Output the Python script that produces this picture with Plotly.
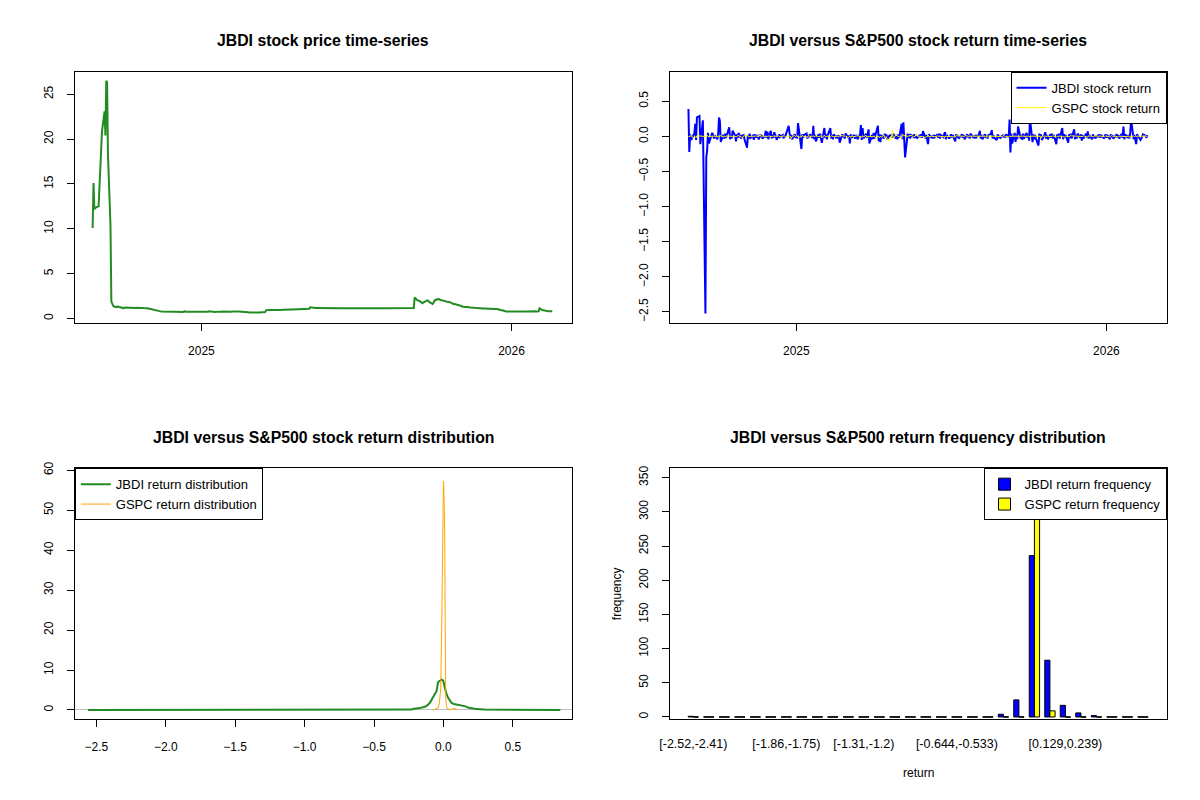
import pandas as pd
import plotly.graph_objects as go

# ---------------- data ----------------
START_DATE = "2024-08-26"

JBDI_PRICE = [
    10.1, 15.1, 12.2, 12.3, 12.4, 12.5, 14.7, 17.4, 19.3, 20.9,
    23.1, 20.4, 26.5, 26.3, 18.4, 10.3, 1.9, 1.6, 1.45, 1.35,
    1.3, 1.28, 1.35, 1.3, 1.25, 1.2, 1.15, 1.2, 1.25, 1.22,
    1.2, 1.18, 1.2, 1.22, 1.2, 1.18, 1.2, 1.19, 1.21, 1.2,
    1.18, 1.2, 1.22, 1.19, 1.17, 1.18, 1.16, 1.15, 1.12, 1.1,
    1.05, 1.0, 0.95, 0.92, 0.9, 0.88, 0.85, 0.82, 0.8, 0.78,
    0.76, 0.75, 0.76, 0.75, 0.74, 0.75, 0.76, 0.75, 0.75, 0.76,
    0.75, 0.74, 0.75, 0.76, 0.75, 0.75, 0.74, 0.75, 0.82, 0.76,
    0.75, 0.75, 0.76, 0.75, 0.74, 0.75, 0.76, 0.75, 0.75, 0.74,
    0.75, 0.76, 0.75, 0.75, 0.74, 0.75, 0.76, 0.75, 0.75, 0.82,
    0.76, 0.75, 0.74, 0.73, 0.74, 0.75, 0.74, 0.73, 0.74, 0.75,
    0.78, 0.77, 0.76, 0.77, 0.78, 0.77, 0.76, 0.77, 0.78, 0.77,
    0.78, 0.79, 0.8, 0.79, 0.8, 0.79, 0.78, 0.8, 0.79, 0.78,
    0.72, 0.7, 0.69, 0.68, 0.69, 0.68, 0.67, 0.68, 0.69, 0.68,
    0.67, 0.68, 0.69, 0.68, 0.7, 0.72, 0.92, 0.95, 0.97, 0.96,
    0.95, 0.97, 0.96, 0.94, 0.95, 0.97, 0.96, 0.97, 0.98, 0.97,
    0.99, 1.0, 1.02, 1.01, 1.0, 1.01, 1.02, 1.03, 1.02, 1.01,
    1.03, 1.04, 1.03, 1.05, 1.04, 1.03, 1.05, 1.06, 1.05, 1.06,
    1.07, 1.06, 1.08, 1.1, 1.25, 1.18, 1.17, 1.16, 1.17, 1.18,
    1.17, 1.16, 1.15, 1.16, 1.17, 1.18, 1.17, 1.16, 1.17, 1.2,
    1.17, 1.16, 1.15, 1.14, 1.15, 1.16, 1.15, 1.14, 1.15, 1.16,
    1.15, 1.14, 1.15, 1.16, 1.17, 1.16, 1.15, 1.14, 1.15, 1.16,
    1.15, 1.14, 1.15, 1.14, 1.13, 1.14, 1.15, 1.16, 1.15, 1.14,
    1.15, 1.16, 1.15, 1.14, 1.15, 1.16, 1.17, 1.16, 1.15, 1.16,
    1.15, 1.14, 1.15, 1.16, 1.17, 1.16, 1.18, 1.17, 1.16, 1.15,
    1.16, 1.17, 1.16, 1.15, 1.16, 1.17, 1.2, 1.18, 1.17, 1.16,
    1.17, 1.16, 1.17, 1.18, 1.17, 1.16, 1.17, 1.18, 1.17, 1.18,
    1.19, 2.36, 2.25, 2.15, 2.05, 1.95, 1.85, 1.75, 1.72, 1.78,
    1.9, 2.0, 2.02, 1.98, 1.85, 1.7, 1.62, 1.75, 1.9, 2.05,
    2.15, 2.2, 2.15, 2.1, 2.05, 2.0, 1.95, 1.92, 1.9, 1.88,
    1.85, 1.8, 1.75, 1.7, 1.65, 1.6, 1.58, 1.55, 1.5, 1.45,
    1.4, 1.35, 1.32, 1.3, 1.28, 1.3, 1.27, 1.25, 1.26, 1.24,
    1.22, 1.2, 1.18, 1.16, 1.15, 1.14, 1.15, 1.13, 1.12, 1.13,
    1.12, 1.1, 1.11, 1.12, 1.1, 1.09, 1.1, 1.11, 1.1, 1.08,
    1.07, 1.06, 1.05, 1.0, 0.95, 0.9, 0.85, 0.82, 0.81, 0.8,
    0.81, 0.8, 0.79, 0.8, 0.81, 0.8, 0.79, 0.8, 0.81, 0.8,
    0.8, 0.79, 0.8, 0.81, 0.8, 0.79, 0.8, 0.79, 0.8, 0.81,
    0.8, 0.79, 0.8, 0.81, 0.8, 0.82, 1.15, 1.05, 1.0, 0.95,
    0.9, 0.86, 0.84, 0.82, 0.83, 0.82, 0.81, 0.82,
]

JBDI_RET = [
    0.39, -0.22, 0.03, -0.05, 0.02, 0.04, 0.18, -0.05, 0.27, 0.29,
    -0.11, 0.05, 0.12, 0.23, -2.52, -0.3, -0.2, 0.05, -0.10, 0.04,
    0.05, 0.02, -0.03, 0.01, -0.04, 0.03, 0.27, 0.22, -0.08, 0.02,
    -0.03, 0.04, -0.02, 0.01, 0.13, -0.04, 0.02, -0.03, 0.08, 0.01,
    -0.07, 0.03, -0.02, 0.05, -0.03, 0.02, -0.01, 0.03, -0.04, -0.16,
    0.02, -0.03, 0.04, -0.02, 0.01, -0.05, 0.03, -0.02, 0.02, -0.04,
    0.03, -0.01, 0.02, -0.03, 0.01, 0.08, -0.02, 0.07, -0.04, 0.08,
    -0.03, 0.02, -0.02, 0.06, -0.05, 0.01, -0.02, 0.03, -0.01, 0.02,
    -0.03, 0.02, -0.01, 0.04, 0.15, 0.05, -0.03, 0.02, -0.04, 0.03,
    -0.02, 0.01, -0.03, 0.19, -0.05, -0.18, 0.03, -0.02, 0.02, 0.04,
    -0.03, 0.02, -0.01, 0.03, -0.02, 0.15, -0.04, 0.02, -0.07, 0.03,
    -0.02, 0.04, -0.03, -0.09, 0.12, -0.02, 0.03, -0.04, 0.02, 0.12,
    -0.03, 0.02, -0.04, 0.03, -0.02, 0.01, -0.03, 0.02, -0.09, 0.03,
    -0.01, 0.02, -0.03, 0.04, -0.02, 0.01, -0.10, 0.03, -0.02, 0.02,
    -0.03, 0.01, 0.02, -0.04, 0.03, 0.16, -0.05, 0.12, -0.03, 0.04,
    -0.02, 0.03, 0.10, -0.10, 0.02, -0.04, 0.05, -0.03, 0.02, 0.15,
    -0.07, 0.03, -0.08, 0.02, -0.03, 0.04, -0.02, 0.03, -0.04, 0.02,
    -0.01, 0.03, -0.02, 0.04, -0.03, 0.02, -0.04, 0.03, -0.02, 0.18,
    -0.04, 0.20, -0.05, -0.30, 0.04, -0.02, 0.03, -0.03, 0.02, -0.01,
    0.03, -0.02, 0.01, -0.03, 0.02, -0.01, 0.03, -0.02, 0.075, -0.03,
    0.02, -0.04, -0.11, 0.03, -0.02, 0.01, -0.03, 0.02, -0.01, 0.03,
    -0.02, 0.04, -0.03, 0.02, -0.01, 0.03, 0.06, -0.04, 0.02, -0.03,
    0.01, 0.03, -0.02, 0.02, -0.07, 0.03, -0.01, 0.02, -0.03, 0.01,
    0.03, -0.02, 0.02, -0.04, 0.03, -0.01, 0.02, -0.03, 0.04, -0.02,
    0.01, -0.03, 0.02, -0.01, 0.03, 0.08, -0.03, 0.02, -0.04, 0.03,
    -0.02, 0.01, -0.03, 0.02, 0.03, 0.09, -0.03, 0.02, -0.02, -0.05,
    0.03, -0.02, 0.01, -0.03, 0.02, -0.01, 0.02, -0.02, 0.03, -0.01,
    0.24, -0.23, 0.04, -0.10, 0.05, -0.08, 0.03, -0.04, 0.14, -0.03,
    0.02, -0.05, 0.04, -0.03, 0.05, -0.02, 0.03, -0.06, 0.25, -0.08,
    0.03, -0.04, 0.02, -0.03, -0.13, 0.04, -0.02, 0.03, -0.05, 0.02,
    0.06, -0.03, 0.02, -0.04, 0.03, -0.02, 0.04, -0.03, 0.02, -0.11,
    0.03, -0.02, 0.04, -0.03, 0.12, -0.04, 0.03, -0.02, 0.02, -0.09,
    0.03, -0.02, 0.04, -0.03, 0.10, -0.04, 0.02, -0.03, 0.04, -0.02,
    0.03, -0.06, 0.02, -0.03, 0.04, -0.02, 0.07, -0.03, 0.02, -0.04,
    0.03, -0.02, 0.01, -0.03, 0.02, -0.01, 0.03, -0.02, 0.02, -0.03,
    0.01, 0.03, -0.02, 0.02, -0.04, 0.03, -0.01, 0.02, -0.03, 0.01,
    0.03, -0.02, 0.02, -0.03, 0.04, -0.02, 0.14, -0.04, 0.03, -0.02,
    0.02, -0.03, 0.05, 0.24, -0.04, 0.02, -0.05, -0.11, 0.03, -0.02,
    -0.05, -0.03, 0.02, 0.03, 0.01, -0.02, 0.02,
]

GSPC_RET_PCT = [
    -0.6, 0.0, -0.0, 1.0, -2.1, -0.2, -0.3, -1.7, 1.2, 0.4,
    0.5, 0.8, 0.5, 0.1, 0.0, -0.3, 1.7, -0.2, 0.0, 0.3,
    0.4, 0.2, -0.1, 0.4, -0.9, 0.8, -0.2, 0.6, 1.0, -1.0,
    0.6, 0.2, -0.8, 0.9, 0.4, 0.0, -0.2, -0.1, -0.0, 0.3,
    -0.9, 0.2, 0.8, 1.1, -0.4, -2.0, -0.3, 0.4, 1.1, 1.3,
    0.3, -0.1, -0.6, 0.0, -0.3, 0.4, -0.4, 0.4, 0.6, -0.3,
    2.5, 0.7, -0.6, 0.4, 0.1, -0.3, 0.3, -0.0, 0.6, -0.4,
    0.2, -0.3, 0.5, 0.4, 0.0, -0.0, 1.1, -0.6, -0.2, 0.3,
    0.4, 0.8, -0.6, 0.0, -0.6, 0.8, 0.1, -2.9, -0.1, 1.1,
    -0.0, 0.7, 1.1, -1.1, 0.1, -0.4, 1.3, 0.2, -0.4, -0.4,
    -1.5, 0.6, 1.6, -0.2, 0.2, 0.6, -0.5, 1.0, 0.9, 0.0,
    -0.5, 0.3, 1.0, -2.1, 1.8, -0.2, -0.7, 0.6, 0.6, -0.3,
    0.9, 0.4, 0.5, -0.5, 0.0, 0.5, -0.3, -0.8, 1.2, 0.5,
    0.6, -0.1, -0.3, 0.4, -1.5, 0.0, 0.4, -1.6, 0.7, -0.5,
    -0.2, -0.4, 0.2, 1.0, -0.3, -0.2, -1.6, 1.1, -0.6, 1.5,
    -0.9, -0.3, -0.2, 0.0, -0.5, -0.1, -0.5, 0.6, -1.8, 0.6,
    -0.9, -1.5, 0.6, -1.3, 2.1, -2.0, -1.0, -0.4, -4.8, -6.0,
    -0.2, -1.6, 9.5, -3.5, 1.8, 0.8, -0.2, 0.1, -0.1, -2.4,
    2.5, 1.7, 2.0, 0.7, 0.1, 0.6, 0.2, 0.6, 1.5, -0.6,
    0.6, 0.4, 3.3, 0.7, 0.1, 0.4, 0.7, -0.1, -0.6, -1.6,
    0.0, -0.7, 2.0, -0.6, 0.4, 0.4, 0.2, 0.0, -0.5, 0.6,
    0.6, -0.3, 0.6, 0.4, 0.0, -0.4, -1.1, 0.9, 0.0, 0.0,
    -0.2, 0.0, 0.0, -0.0, -0.8, 1.1, 1.0, 0.8, 0.5, 0.5,
    0.5, 0.1, -0.8, 0.8, 0.8, -0.2, 0.3, 0.3, 0.0, -0.3,
    0.6, -0.3, 0.1, 0.5, 0.3, -0.1, -0.4, 0.1, -0.3, 0.1,
    0.3, -1.6, 0.8, 0.6, 0.4, 0.8, -0.1, 0.0, 0.3, 0.3,
    -0.3, -0.6, 0.4, -0.1, 0.2, 1.5, 0.2, -0.4, 0.2, -0.7,
    0.2, -0.2, 0.1, 0.3, 0.1, 0.4, 0.3, 0.3, 0.1, -0.6,
    0.0, 0.3, 0.5, 0.1, 0.2, 0.5, 0.5, -0.5, 0.1, 0.3,
    0.2, 0.1, 0.3, 0.3, 0.6, -0.3, 0.3, -2.7, 0.4, 0.4,
    0.6, -0.6, 1.1, 0.1, 0.0, -0.5, -0.1, 1.2, 0.3, -1.1,
    0.2, -0.1, 0.4, 0.5, -0.3, -0.8, -0.1, -1.2, 0.2, 0.4,
    -0.9, 1.0, 1.6, 0.7, 0.5, -0.3, 0.2, 0.5, 0.2, 0.1,
    0.2, -0.1, -0.1, 0.7, 0.2, -0.1, -1.1, 0.8, 0.6, 0.0,
    -0.3, -0.1, 0.6, 0.3, 0.6, -0.2, 0.6, 0.3, -0.3, -0.1,
    -0.4, 0.6, 0.4, -0.2, -0.7, 0.2, 1.1, 0.4, -0.1, 0.3,
    -0.2, 0.0, -1.0, 0.3, 0.1, -0.3, -0.1, 0.0, -0.7, -0.3,
    0.9, -1.3, -0.4, -0.5, 0.5, -0.2, 0.7, -0.3, 0.4, -0.3,
    0.2, 0.5, -0.3, 0.6, 0.4, -0.1, 0.3,
]

DENS_JBDI_X = [-2.56, -0.25, -0.228, -0.216, -0.18, -0.133, -0.115, -0.098, -0.08,
               -0.062, -0.05, -0.038, -0.026, -0.014, -0.002, 0.009, 0.02, 0.033,
               0.045, 0.057, 0.075, 0.093, 0.115, 0.14, 0.16, 0.176, 0.2, 0.224,
               0.26, 0.295, 0.842]
DENS_JBDI_Y = [0.0, 0.0, 0.1, 0.3, 0.4, 0.8, 1.2, 1.8, 2.8,
               3.9, 4.7, 7.0, 7.3, 7.6, 7.4, 5.6, 4.2, 3.1,
               2.3, 1.8, 1.5, 1.4, 1.3, 1.1, 0.9, 0.6, 0.4, 0.3,
               0.2, 0.1, 0.0]
DENS_GSPC_X = [-0.075, -0.062, -0.05, -0.038, -0.03, -0.026, -0.02, -0.014, -0.01,
               -0.007, -0.004, -0.002, 0.0, 0.002, 0.005, 0.009, 0.012, 0.014,
               0.017, 0.021, 0.03, 0.05, 0.07, 0.085, 0.093, 0.095]
DENS_GSPC_Y = [0.0, 0.2, 0.3, 0.5, 1.5, 2.7, 5.0, 15.9, 28.0,
               40.0, 50.0, 55.0, 57.3, 56.5, 52.0, 45.0, 25.0, 7.2,
               3.0, 1.0, 0.3, 0.1, 0.2, 0.4, 0.2, 0.0]

BIN_LABELS = [
    "[-2.52,-2.41)", "[-2.41,-2.3)", "[-2.3,-2.19)", "[-2.19,-2.08)", "[-2.08,-1.97)",
    "[-1.97,-1.86)", "[-1.86,-1.75)", "[-1.75,-1.64)", "[-1.64,-1.53)", "[-1.53,-1.42)",
    "[-1.42,-1.31)", "[-1.31,-1.2)", "[-1.2,-1.09)", "[-1.09,-0.975)", "[-0.975,-0.865)",
    "[-0.865,-0.754)", "[-0.754,-0.644)", "[-0.644,-0.533)", "[-0.533,-0.423)", "[-0.423,-0.313)",
    "[-0.313,-0.202)", "[-0.202,-0.0918)", "[-0.0918,0.0186)", "[0.0186,0.129)", "[0.129,0.239)",
    "[0.239,0.35)", "[0.35,0.46)", "[0.46,0.57)", "[0.57,0.681)", "[0.681,0.791]",
]
JBDI_FREQ = [1, 0, 0, 0, 0, 0, 0, 0, 0, 0,
             0, 0, 0, 0, 0, 0, 0, 0, 0, 0,
             4, 25, 236, 83, 17, 6, 2, 0, 0, 0]
GSPC_FREQ = [0, 0, 0, 0, 0, 0, 0, 0, 0, 0,
             0, 0, 0, 0, 0, 0, 0, 0, 0, 0,
             0, 0, 372, 9, 0, 0, 0, 0, 0, 0]
SHOWN_BIN_LABELS = ["[-2.52,-2.41)", "[-1.86,-1.75)", "[-1.31,-1.2)",
                    "[-0.644,-0.533)", "[0.129,0.239)"]

TIME_TICKS = ["2025-01-01", "2026-01-01"]
TIME_TICK_TEXT = ["2025", "2026"]

# ---------------- figure ----------------
FONT = "Arial, 'Liberation Sans', sans-serif"
price_dates = pd.bdate_range(START_DATE, periods=len(JBDI_PRICE))
ret_dates = pd.bdate_range(START_DATE, periods=len(JBDI_RET) + 1)[1:]
gspc_ret = [v / 100.0 for v in GSPC_RET_PCT]
gspc_dates = pd.bdate_range(START_DATE, periods=len(gspc_ret) + 1)[1:]

fig = go.Figure()

fig.add_trace(go.Scatter(x=price_dates, y=JBDI_PRICE, mode="lines",
                         line=dict(color="#228B22", width=2),
                         showlegend=False, xaxis="x", yaxis="y"))

fig.add_trace(go.Scatter(x=ret_dates, y=JBDI_RET, mode="lines", name="JBDI stock return",
                         line=dict(color="#0000FF", width=2),
                         legend="legend", xaxis="x2", yaxis="y2", offsetgroup="r"))
fig.add_trace(go.Scatter(x=gspc_dates, y=gspc_ret, mode="lines", name="GSPC stock return",
                         line=dict(color="#FFFF00", width=1),
                         legend="legend", xaxis="x2", yaxis="y2", offsetgroup="r"))

fig.add_trace(go.Scatter(x=DENS_JBDI_X, y=DENS_JBDI_Y, mode="lines",
                         name="JBDI return distribution",
                         line=dict(color="#228B22", width=2),
                         legend="legend2", xaxis="x3", yaxis="y3", offsetgroup="d"))
fig.add_trace(go.Scatter(x=DENS_GSPC_X, y=DENS_GSPC_Y, mode="lines",
                         name="GSPC return distribution",
                         line=dict(color="#FFA500", width=1),
                         legend="legend2", xaxis="x3", yaxis="y3", offsetgroup="d"))

fig.add_trace(go.Bar(x=BIN_LABELS, y=JBDI_FREQ, name="JBDI return frequency",
                     marker=dict(color="#0000FF", line=dict(color="black", width=1)),
                     legend="legend3", xaxis="x4", yaxis="y4", offsetgroup="1"))
fig.add_trace(go.Bar(x=BIN_LABELS, y=GSPC_FREQ, name="GSPC return frequency",
                     marker=dict(color="#FFFF00", line=dict(color="black", width=1)),
                     legend="legend3", xaxis="x4", yaxis="y4", offsetgroup="2"))
# R draws zero-height bars as a flat outline
for freq, grp in ((JBDI_FREQ, "1"), (GSPC_FREQ, "2")):
    zx = [lab for lab, c in zip(BIN_LABELS, freq) if c == 0]
    zy = [c for c in freq if c == 0]
    fig.add_trace(go.Scatter(x=zx, y=zy, mode="markers", showlegend=False,
                             marker=dict(symbol="line-ew", size=3.8,
                                         line=dict(color="black", width=1)),
                             xaxis="x4", yaxis="y4", offsetgroup=grp, hoverinfo="skip"))

# The page body keeps its default 8px margin, so the figure is 16px smaller
# than the 1200x800 window and every position is measured from that offset.
OFF = 8
W, H = 1200 - 2 * OFF, 800 - 2 * OFF


def px(X):
    return (X - OFF) / W


def py(Y):
    return 1 - (Y - OFF) / H


c1 = [px(65.3), px(566.3)]
c2 = [px(665.3), px(1166.3)]
r1 = [py(318.3), py(65.3)]
r2 = [py(718.3), py(465.3)]

axis_common = dict(showline=True, mirror=True, linecolor="black", linewidth=1,
                   showgrid=False, zeroline=False, ticks="outside", ticklen=7,
                   tickcolor="black", tickwidth=1,
                   tickfont=dict(family=FONT, size=12, color="black"))
yaxis_common = dict(axis_common, tickangle=-90, ticklabelstandoff=9)
xaxis_common = dict(axis_common, ticklabelstandoff=10)

time_range = ["2024-08-05", "2026-03-12 17:00"]
leg_font = dict(family=FONT, size=13, color="black")

fig.update_layout(
    width=W, height=H, margin=dict(l=0, r=0, t=0, b=0),
    paper_bgcolor="white", plot_bgcolor="white",
    font=dict(family=FONT, size=12, color="black"),
    barmode="group", bargap=1 / 3, bargroupgap=0,
    scattermode="group", scattergap=1 / 3,
    xaxis=dict(xaxis_common, domain=c1, anchor="y", type="date", range=time_range,
               tickvals=TIME_TICKS, ticktext=TIME_TICK_TEXT),
    yaxis=dict(yaxis_common, domain=r1, anchor="x", range=[-0.44, 27.5],
               tickvals=[0, 5, 10, 15, 20, 25]),
    xaxis2=dict(xaxis_common, domain=c2, anchor="y2", type="date", range=time_range,
                tickvals=TIME_TICKS, ticktext=TIME_TICK_TEXT),
    yaxis2=dict(yaxis_common, domain=r1, anchor="x2", range=[-2.65, 0.92],
                tickvals=[-2.5, -2.0, -1.5, -1.0, -0.5, 0.0, 0.5], tickformat=".1f"),
    xaxis3=dict(xaxis_common, domain=c1, anchor="y3", range=[-2.655, 0.923],
                tickvals=[-2.5, -2.0, -1.5, -1.0, -0.5, 0.0, 0.5], tickformat=".1f"),
    yaxis3=dict(yaxis_common, domain=r2, anchor="x3", range=[-2.25, 60.5],
                tickvals=[0, 10, 20, 30, 40, 50, 60],
                zeroline=True, zerolinecolor="#BEBEBE", zerolinewidth=1),
    xaxis4=dict(xaxis_common, domain=c2, anchor="y4", type="category",
                categoryorder="array", categoryarray=BIN_LABELS,
                range=[-1.52, 30.52], ticks="", tickvals=SHOWN_BIN_LABELS,
                ticktext=SHOWN_BIN_LABELS, ticklabelstandoff=13,
                tickfont=dict(family=FONT, size=12.5, color="black")),
    yaxis4=dict(yaxis_common, domain=r2, anchor="x4", range=[-2.9, 363.8],
                tickvals=[0, 50, 100, 150, 200, 250, 300, 350]),
    legend=dict(x=c2[1], y=r1[1], xanchor="right", yanchor="top",
                bgcolor="white", bordercolor="black", borderwidth=1,
                font=leg_font, itemwidth=30, tracegroupgap=0),
    legend2=dict(x=c1[0], y=r2[1], xanchor="left", yanchor="top",
                 bgcolor="white", bordercolor="black", borderwidth=1,
                 font=leg_font, itemwidth=30, tracegroupgap=0),
    legend3=dict(x=c2[1], y=r2[1], xanchor="right", yanchor="top",
                 bgcolor="white", bordercolor="black", borderwidth=1,
                 font=leg_font, itemwidth=30, tracegroupgap=0),
)

titles = [
    ("JBDI stock price time-series", (c1[0] + c1[1]) / 2, py(34)),
    ("JBDI versus S&P500 stock return time-series", (c2[0] + c2[1]) / 2, py(34)),
    ("JBDI versus S&P500 stock return distribution", (c1[0] + c1[1]) / 2, py(434)),
    ("JBDI versus S&P500 return frequency distribution", (c2[0] + c2[1]) / 2, py(434)),
]
for text, x, y in titles:
    fig.add_annotation(text="<b>" + text + "</b>", x=x, y=y, xref="paper", yref="paper",
                       xanchor="center", yanchor="middle", showarrow=False,
                       font=dict(family=FONT, size=15.8, color="black"))

fig.add_annotation(text="frequency", x=px(612), y=py(591.5), xref="paper", yref="paper",
                   xanchor="center", yanchor="middle", showarrow=False, textangle=-90,
                   font=dict(family=FONT, size=12, color="black"))
fig.add_annotation(text="return", x=(c2[0] + c2[1]) / 2, y=py(773), xref="paper",
                   yref="paper", xanchor="center", yanchor="middle", showarrow=False,
                   font=dict(family=FONT, size=12, color="black"))

fig.write_html("out.html", config={"displayModeBar": False})
